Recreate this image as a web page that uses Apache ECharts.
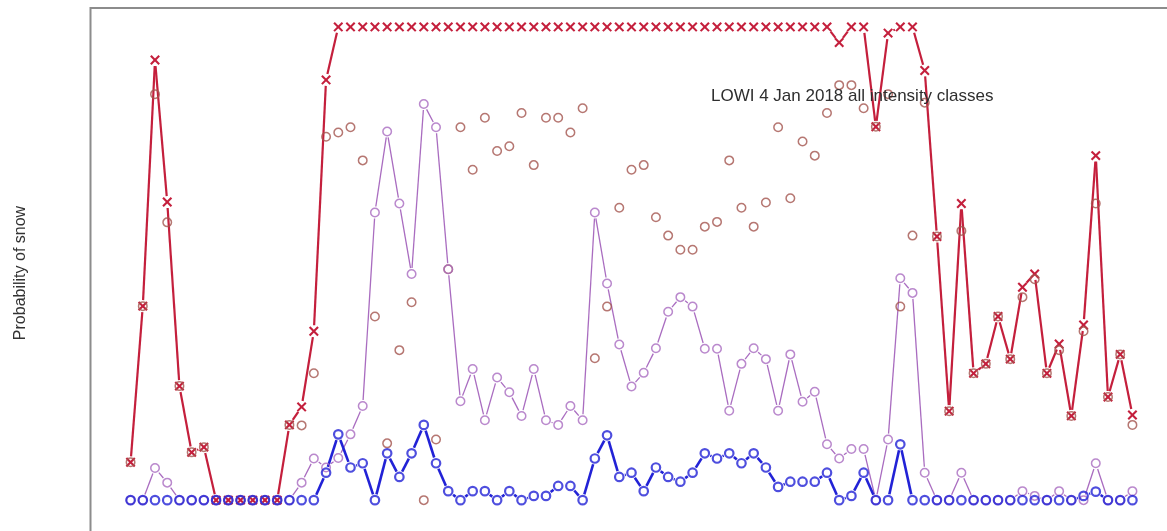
<!DOCTYPE html>
<html>
<head>
<meta charset="utf-8">
<title>LOWI 4 Jan 2018 all intensity classes</title>
<script src="https://cdn.jsdelivr.net/npm/echarts@6/dist/echarts.min.js"></script>
<style>
  html, body { margin: 0; padding: 0; background: #ffffff; }
  #chart { width: 1167px; height: 531px; }
</style>
</head>
<body>
<div id="chart"></div>
<script>
// Probability of snow per forecast step, one array per intensity class.
const pAny = [
  0.080, 0.410, 0.930, 0.630, 0.241, 0.101, 0.112, 0, 0, 0, 0, 0, 0, 0.159, 0.197, 0.357, 0.888,
  1, 1, 1, 1, 1, 1, 1, 1, 1, 1, 1, 1, 1, 1, 1, 1, 1, 1, 1, 1, 1,
  1, 1, 1, 1, 1, 1, 1, 1, 1, 1, 1, 1, 1, 1, 1, 1, 1, 1, 1, 1,
  0.967, 1, 1, 0.789, 0.987, 1, 1, 0.908, 0.557, 0.188, 0.627, 0.268, 0.288, 0.388, 0.298,
  0.450, 0.478, 0.268, 0.330, 0.178, 0.370, 0.728, 0.218, 0.308, 0.180
];
const pLight = [
  0.080, 0.410, 0.858, 0.587, 0.241, 0.101, 0.112, 0, 0, 0, 0, 0, 0, 0.159, 0.158, 0.268, 0.768, 0.777, 0.788, 0.718, 0.388,
  0.120, 0.317, 0.418, 0.000, 0.128, 0.488, 0.788, 0.698, 0.808, 0.738, 0.748, 0.818, 0.708, 0.808, 0.808, 0.777, 0.828, 0.300, 0.409, 0.618,
  0.698, 0.708, 0.598, 0.559, 0.529, 0.529, 0.578, 0.588, 0.718, 0.618, 0.578, 0.629, 0.788, 0.638, 0.758, 0.728, 0.818, 0.877, 0.877, 0.828,
  0.789, 0.858, 0.409, 0.559, 0.840, 0.557, 0.188, 0.569, 0.268, 0.288, 0.388, 0.298, 0.429, 0.467, 0.268, 0.317, 0.178, 0.357, 0.627, 0.218, 0.308, 0.159
];
const pModerate = [
  0, 0, 0.068, 0.037, 0, 0, 0, 0, 0, 0, 0, 0, 0, 0, 0.037, 0.088, 0.069, 0.089, 0.139, 0.199, 0.608,
  0.779, 0.627, 0.478, 0.837, 0.788, 0.488, 0.209, 0.277, 0.169, 0.259, 0.228, 0.178, 0.277, 0.169, 0.159, 0.199, 0.169, 0.608, 0.458, 0.329,
  0.240, 0.269, 0.321, 0.398, 0.429, 0.409, 0.320, 0.320, 0.189, 0.288, 0.321, 0.298, 0.189, 0.308, 0.208, 0.229, 0.118, 0.088, 0.108, 0.108,
  0, 0.128, 0.469, 0.438, 0.058, 0, 0, 0.058, 0, 0, 0, 0, 0.019, 0.009, 0, 0.019, 0, 0, 0.078, 0, 0, 0.019
];
const pHeavy = [
  0, 0, 0, 0, 0, 0, 0, 0, 0, 0, 0, 0, 0, 0, 0, 0,
  0.058, 0.139, 0.069, 0.078, 0, 0.099, 0.049, 0.099, 0.159, 0.078, 0.019, 0, 0.019, 0.019, 0, 0.019, 0,
  0.009, 0.009, 0.030, 0.030, 0, 0.088, 0.137, 0.049, 0.058, 0.019, 0.069, 0.049, 0.039, 0.058, 0.099, 0.088,
  0.099, 0.078, 0.099, 0.069, 0.028, 0.039, 0.039, 0.039, 0.058, 0, 0.009, 0.058, 0, 0, 0.118, 0,
  0, 0, 0, 0, 0, 0, 0, 0, 0, 0, 0, 0, 0, 0.009, 0.018, 0, 0, 0
];
const titleText = 'LOWI 4 Jan 2018 all intensity classes';
const yLabel = 'Probability of snow';

const C_ANY = '#c41f3c';
const C_LIGHT = '#a4554f';
const C_MOD = '#a96cc0';
const C_HEAVY = '#2222d6';
const GAP = 6;  // lines stop short of each marker, like plot type "b"

function pairs(values) {
  return values.map((v, i) => [i, v]);
}

// Connecting segments, shortened at both ends so markers sit in a gap.
function gapLine(values, color, width) {
  const data = [];
  for (let i = 0; i < values.length - 1; i++) data.push([i, values[i], i + 1, values[i + 1]]);
  return {
    type: 'custom', data: data, silent: true, animation: false, clip: false,
    encode: { x: [0, 2], y: [1, 3] },
    renderItem: function (params, api) {
      const a = api.coord([api.value(0), api.value(1)]);
      const b = api.coord([api.value(2), api.value(3)]);
      const dx = b[0] - a[0], dy = b[1] - a[1];
      const L = Math.hypot(dx, dy);
      if (L <= 2 * GAP + 0.5) return { type: 'group', children: [] };
      const ux = dx / L, uy = dy / L;
      return {
        type: 'line',
        shape: { x1: a[0] + ux * GAP, y1: a[1] + uy * GAP, x2: b[0] - ux * GAP, y2: b[1] - uy * GAP },
        style: { stroke: color, lineWidth: width, lineCap: 'butt' }
      };
    }
  };
}

// Open circles.
function circles(values, color, width) {
  return {
    type: 'scatter', data: pairs(values), symbol: 'circle', symbolSize: 8.5,
    silent: true, animation: false,
    itemStyle: { color: 'rgba(0,0,0,0)', borderColor: color, borderWidth: width }
  };
}

// Diagonal crosses.
function crosses(values, color) {
  const h = 4.2;
  return {
    type: 'custom', data: pairs(values), silent: true, animation: false, clip: false,
    encode: { x: 0, y: 1 },
    renderItem: function (params, api) {
      const p = api.coord([api.value(0), api.value(1)]);
      const st = { stroke: color, lineWidth: 2.1 };
      return {
        type: 'group',
        children: [
          { type: 'line', shape: { x1: p[0] - h, y1: p[1] - h, x2: p[0] + h, y2: p[1] + h }, style: st },
          { type: 'line', shape: { x1: p[0] - h, y1: p[1] + h, x2: p[0] + h, y2: p[1] - h }, style: st }
        ]
      };
    }
  };
}

const chart = echarts.init(document.getElementById('chart'), null, { renderer: 'canvas' });
chart.setOption({
  backgroundColor: '#ffffff',
  animation: false,
  title: {
    text: titleText, left: 711, top: 88, padding: 0,
    textStyle: { fontFamily: 'Liberation Sans', fontSize: 17, fontWeight: 'normal', color: '#2e2e2e' }
  },
  grid: {
    left: 90.5, top: 8, width: 1082, height: 530,
    outerBoundsMode: 'none',
    show: true, borderColor: '#8c8c8c', borderWidth: 2, backgroundColor: 'transparent'
  },
  xAxis: {
    type: 'value', min: -3.28, max: 85.28,
    axisLine: { show: false }, axisTick: { show: false }, axisLabel: { show: false }, splitLine: { show: false }
  },
  yAxis: {
    type: 'value', min: -0.08, max: 1.04,
    name: yLabel, nameLocation: 'middle', nameGap: 62, nameRotate: 90,
    nameTextStyle: { fontFamily: 'Liberation Sans', fontSize: 16, color: '#333333' },
    axisLine: { show: false }, axisTick: { show: false }, axisLabel: { show: false }, splitLine: { show: false }
  },
  series: [
    gapLine(pAny, C_ANY, 2.2),
    crosses(pAny, C_ANY),
    circles(pLight, C_LIGHT, 1.5),
    gapLine(pModerate, C_MOD, 1.3),
    circles(pModerate, C_MOD, 1.5),
    gapLine(pHeavy, C_HEAVY, 2.6),
    circles(pHeavy, C_HEAVY, 2.2)
  ]
});
</script>
</body>
</html>
